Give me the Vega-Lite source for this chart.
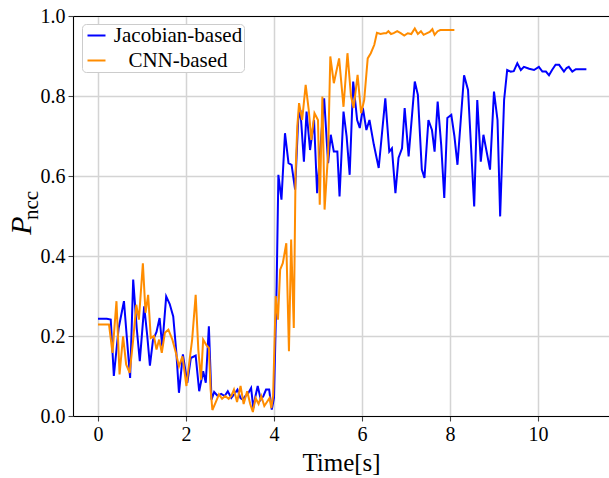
{
  "$schema": "https://vega.github.io/schema/vega-lite/v6.json",
  "width": 536,
  "height": 400,
  "autosize": {"type": "none"},
  "padding": {"left": 73, "top": 16, "right": 0, "bottom": 62},
  "background": "white",
  "config": {
    "view": {"stroke": null},
    "axis": {"labelFont": "Liberation Serif", "labelFontSize": 20, "labelColor": "#000", "titleFont": "Liberation Serif", "titleColor": "#000", "titleFontWeight": "normal"}
  },
  "datasets": {
    "jac": [
      {"t":0.0,"v":0.243},{"t":0.1,"v":0.243},{"t":0.2,"v":0.243},{"t":0.29,"v":0.241},{"t":0.36,"v":0.10},{"t":0.47,"v":0.22},{"t":0.59,"v":0.287},{"t":0.66,"v":0.19},{"t":0.73,"v":0.095},{"t":0.80,"v":0.341},{"t":0.88,"v":0.22},{"t":0.95,"v":0.137},{"t":1.05,"v":0.274},{"t":1.12,"v":0.20},{"t":1.18,"v":0.126},{"t":1.25,"v":0.19},{"t":1.33,"v":0.21},{"t":1.40,"v":0.245},{"t":1.46,"v":0.174},{"t":1.55,"v":0.299},{"t":1.63,"v":0.28},{"t":1.71,"v":0.249},{"t":1.78,"v":0.16},{"t":1.84,"v":0.058},{"t":1.93,"v":0.154},{"t":2.03,"v":0.083},{"t":2.11,"v":0.145},{"t":2.22,"v":0.151},{"t":2.30,"v":0.062},{"t":2.39,"v":0.112},{"t":2.45,"v":0.083},{"t":2.52,"v":0.224},{"t":2.58,"v":0.041},{"t":2.64,"v":0.06},{"t":2.72,"v":0.05},{"t":2.80,"v":0.055},{"t":2.88,"v":0.05},{"t":2.95,"v":0.062},{"t":3.03,"v":0.045},{"t":3.10,"v":0.055},{"t":3.17,"v":0.066},{"t":3.24,"v":0.045},{"t":3.29,"v":0.041},{"t":3.35,"v":0.05},{"t":3.40,"v":0.054},{"t":3.48,"v":0.07},{"t":3.53,"v":0.02},{"t":3.58,"v":0.05},{"t":3.63,"v":0.075},{"t":3.70,"v":0.041},{"t":3.76,"v":0.05},{"t":3.82,"v":0.066},{"t":3.89,"v":0.066},{"t":3.95,"v":0.016},{"t":4.0,"v":0.045},{"t":4.06,"v":0.324},{"t":4.10,"v":0.603},{"t":4.17,"v":0.541},{"t":4.25,"v":0.707},{"t":4.33,"v":0.632},{"t":4.40,"v":0.628},{"t":4.48,"v":0.566},{"t":4.55,"v":0.74},{"t":4.60,"v":0.765},{"t":4.68,"v":0.636},{"t":4.74,"v":0.761},{"t":4.82,"v":0.665},{"t":4.91,"v":0.74},{"t":4.98,"v":0.557},{"t":5.05,"v":0.665},{"t":5.14,"v":0.794},{"t":5.23,"v":0.632},{"t":5.29,"v":0.703},{"t":5.36,"v":0.661},{"t":5.44,"v":0.661},{"t":5.49,"v":0.549},{"t":5.58,"v":0.761},{"t":5.65,"v":0.70},{"t":5.72,"v":0.603},{"t":5.80,"v":0.836},{"t":5.89,"v":0.74},{"t":5.95,"v":0.72},{"t":6.02,"v":0.77},{"t":6.10,"v":0.715},{"t":6.17,"v":0.74},{"t":6.27,"v":0.678},{"t":6.38,"v":0.62},{"t":6.53,"v":0.794},{"t":6.62,"v":0.661},{"t":6.68,"v":0.669},{"t":6.76,"v":0.557},{"t":6.83,"v":0.645},{"t":6.91,"v":0.669},{"t":6.97,"v":0.77},{"t":7.06,"v":0.649},{"t":7.20,"v":0.836},{"t":7.27,"v":0.803},{"t":7.36,"v":0.616},{"t":7.42,"v":0.595},{"t":7.51,"v":0.74},{"t":7.59,"v":0.715},{"t":7.65,"v":0.661},{"t":7.72,"v":0.786},{"t":7.80,"v":0.678},{"t":7.87,"v":0.545},{"t":7.94,"v":0.745},{"t":8.03,"v":0.753},{"t":8.10,"v":0.70},{"t":8.17,"v":0.628},{"t":8.32,"v":0.852},{"t":8.41,"v":0.815},{"t":8.55,"v":0.524},{"t":8.62,"v":0.79},{"t":8.70,"v":0.636},{"t":8.76,"v":0.703},{"t":8.91,"v":0.616},{"t":9.00,"v":0.811},{"t":9.08,"v":0.74},{"t":9.14,"v":0.499},{"t":9.23,"v":0.79},{"t":9.30,"v":0.865},{"t":9.38,"v":0.861},{"t":9.45,"v":0.862},{"t":9.53,"v":0.882},{"t":9.61,"v":0.865},{"t":9.68,"v":0.873},{"t":9.80,"v":0.868},{"t":9.91,"v":0.865},{"t":10.02,"v":0.873},{"t":10.10,"v":0.861},{"t":10.18,"v":0.861},{"t":10.25,"v":0.852},{"t":10.32,"v":0.865},{"t":10.40,"v":0.878},{"t":10.48,"v":0.878},{"t":10.59,"v":0.861},{"t":10.65,"v":0.87},{"t":10.70,"v":0.873},{"t":10.78,"v":0.861},{"t":10.86,"v":0.867},{"t":11.10,"v":0.867}
    ],
    "cnn": [
      {"t":0.0,"v":0.229},{"t":0.1,"v":0.229},{"t":0.2,"v":0.229},{"t":0.25,"v":0.229},{"t":0.33,"v":0.158},{"t":0.42,"v":0.287},{"t":0.49,"v":0.104},{"t":0.57,"v":0.199},{"t":0.64,"v":0.129},{"t":0.72,"v":0.108},{"t":0.80,"v":0.191},{"t":0.87,"v":0.278},{"t":0.93,"v":0.241},{"t":1.02,"v":0.382},{"t":1.08,"v":0.258},{"t":1.14,"v":0.303},{"t":1.20,"v":0.195},{"t":1.27,"v":0.20},{"t":1.33,"v":0.166},{"t":1.39,"v":0.191},{"t":1.45,"v":0.158},{"t":1.52,"v":0.208},{"t":1.60,"v":0.216},{"t":1.69,"v":0.191},{"t":1.77,"v":0.158},{"t":1.84,"v":0.124},{"t":1.92,"v":0.149},{"t":2.01,"v":0.075},{"t":2.07,"v":0.13},{"t":2.14,"v":0.191},{"t":2.22,"v":0.303},{"t":2.28,"v":0.166},{"t":2.34,"v":0.091},{"t":2.39,"v":0.191},{"t":2.46,"v":0.178},{"t":2.52,"v":0.17},{"t":2.56,"v":0.066},{"t":2.60,"v":0.015},{"t":2.67,"v":0.033},{"t":2.75,"v":0.054},{"t":2.82,"v":0.043},{"t":2.89,"v":0.05},{"t":2.97,"v":0.043},{"t":3.03,"v":0.05},{"t":3.09,"v":0.066},{"t":3.16,"v":0.035},{"t":3.24,"v":0.075},{"t":3.31,"v":0.03},{"t":3.39,"v":0.062},{"t":3.46,"v":0.03},{"t":3.52,"v":0.01},{"t":3.58,"v":0.045},{"t":3.65,"v":0.03},{"t":3.71,"v":0.05},{"t":3.78,"v":0.025},{"t":3.84,"v":0.035},{"t":3.90,"v":0.045},{"t":3.94,"v":0.02},{"t":3.98,"v":0.05},{"t":4.04,"v":0.30},{"t":4.09,"v":0.241},{"t":4.14,"v":0.366},{"t":4.20,"v":0.382},{"t":4.28,"v":0.432},{"t":4.34,"v":0.162},{"t":4.39,"v":0.441},{"t":4.45,"v":0.22},{"t":4.49,"v":0.607},{"t":4.53,"v":0.724},{"t":4.57,"v":0.782},{"t":4.64,"v":0.74},{"t":4.72,"v":0.828},{"t":4.79,"v":0.765},{"t":4.85,"v":0.69},{"t":4.92,"v":0.757},{"t":5.00,"v":0.74},{"t":5.04,"v":0.528},{"t":5.10,"v":0.799},{"t":5.15,"v":0.516},{"t":5.23,"v":0.657},{"t":5.28,"v":0.899},{"t":5.36,"v":0.832},{"t":5.48,"v":0.894},{"t":5.58,"v":0.773},{"t":5.67,"v":0.907},{"t":5.75,"v":0.80},{"t":5.81,"v":0.77},{"t":5.90,"v":0.853},{"t":5.98,"v":0.757},{"t":6.05,"v":0.79},{"t":6.13,"v":0.894},{"t":6.20,"v":0.907},{"t":6.28,"v":0.928},{"t":6.34,"v":0.958},{"t":6.42,"v":0.955},{"t":6.50,"v":0.957},{"t":6.55,"v":0.957},{"t":6.60,"v":0.962},{"t":6.66,"v":0.955},{"t":6.72,"v":0.957},{"t":6.80,"v":0.962},{"t":6.88,"v":0.957},{"t":6.96,"v":0.951},{"t":7.04,"v":0.957},{"t":7.12,"v":0.955},{"t":7.20,"v":0.969},{"t":7.27,"v":0.955},{"t":7.34,"v":0.962},{"t":7.40,"v":0.953},{"t":7.48,"v":0.957},{"t":7.54,"v":0.96},{"t":7.60,"v":0.967},{"t":7.65,"v":0.953},{"t":7.72,"v":0.962},{"t":7.78,"v":0.965},{"t":7.90,"v":0.965},{"t":8.10,"v":0.965}
    ]
  },
  "layer": [
    {
      "data": {"name": "jac"},
      "transform": [{"calculate": "'Jacobian-based'", "as": "s"}],
      "mark": {"type": "line", "strokeWidth": 2},
      "encoding": {
        "x": {"field": "t", "type": "quantitative", "scale": {"domain": [-0.568, 11.614], "nice": false, "zero": false},
          "axis": {"orient": "bottom", "values": [0, 2, 4, 6, 8, 10], "format": "d", "title": "Time[s]", "titleFontSize": 25, "titlePadding": 6,
            "grid": true, "gridColor": "#d4d4d4", "gridWidth": 1.5, "domain": true, "domainColor": "#000", "domainWidth": 1.1,
            "ticks": true, "tickSize": 5, "tickColor": "#444", "tickWidth": 1.1, "labelPadding": 3}},
        "y": {"field": "v", "type": "quantitative", "scale": {"domain": [0, 1], "nice": false},
          "axis": {"orient": "left", "values": [0, 0.2, 0.4, 0.6, 0.8, 1.0], "format": ".1f", "title": "P",
            "titleFontSize": 30, "titleFontStyle": "italic", "titleAlign": "center", "titleBaseline": "alphabetic", "titleX": -43, "titleY": 209,
            "grid": true, "gridColor": "#d4d4d4", "gridWidth": 1.5, "domain": true, "domainColor": "#000", "domainWidth": 1.1,
            "ticks": true, "tickSize": 5, "tickColor": "#444", "tickWidth": 1.1, "labelPadding": 3}},
        "color": {"field": "s", "type": "nominal",
          "scale": {"domain": ["Jacobian-based", "CNN-based"], "range": ["#0000ff", "#ff8c00"]},
          "legend": {"title": null, "orient": "none", "legendX": 9, "legendY": 8, "fillColor": "#ffffff", "strokeColor": "#cccccc", "cornerRadius": 4, "padding": 1,
            "symbolType": "stroke", "symbolSize": 324, "symbolStrokeWidth": 2, "symbolOffset": 3, "labelFont": "Liberation Serif", "labelFontSize": 21, "labelColor": "#000",
            "labelAlign": "center", "labelOffset": 71, "rowPadding": 3, "labelLimit": 300}}
      }
    },
    {
      "data": {"name": "cnn"},
      "transform": [{"calculate": "'CNN-based'", "as": "s"}],
      "mark": {"type": "line", "strokeWidth": 2},
      "encoding": {
        "x": {"field": "t", "type": "quantitative",
          "axis": {"orient": "top", "title": null, "labels": false, "ticks": false, "grid": false, "domain": true, "domainColor": "#000", "domainWidth": 1.1}},
        "y": {"field": "v", "type": "quantitative",
          "axis": {"orient": "left", "title": "ncc", "labels": false, "ticks": false, "grid": false, "domain": false,
            "titleFontSize": 21, "titleAlign": "center", "titleBaseline": "alphabetic", "titleX": -36, "titleY": 189}},
        "color": {"field": "s", "type": "nominal"}
      }
    }
  ],
  "resolve": {"axis": {"x": "independent", "y": "independent"}}
}
